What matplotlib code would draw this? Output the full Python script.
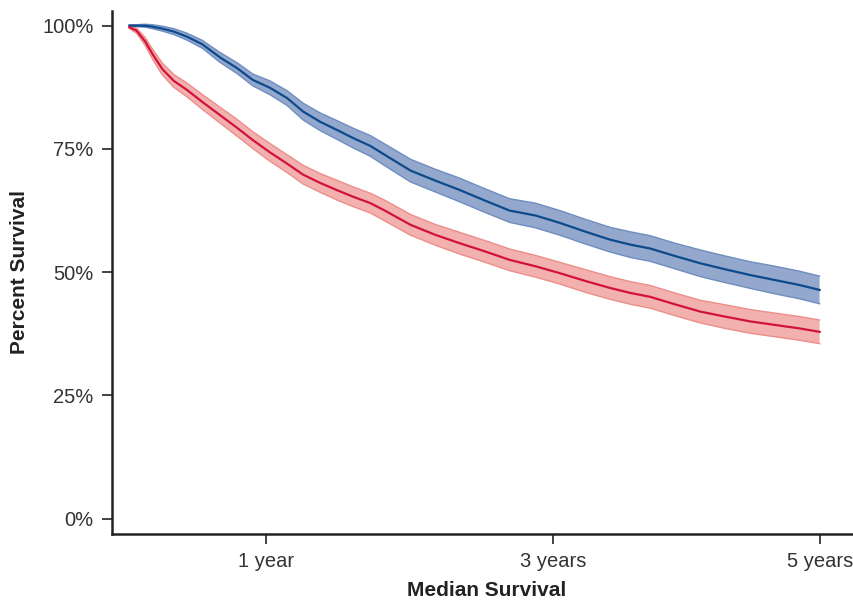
import matplotlib
matplotlib.use("Agg")
import matplotlib.pyplot as plt
import numpy as np

plt.rcParams['font.family'] = ['Liberation Sans', 'DejaVu Sans']

# time in years
time_years = [0.05, 0.10, 0.16, 0.21, 0.28, 0.36, 0.45, 0.56, 0.68, 0.80, 0.91,
              1.03, 1.15, 1.26, 1.38, 1.50, 1.61, 1.73, 1.83, 2.01, 2.18, 2.35,
              2.53, 2.70, 2.88, 3.05, 3.23, 3.40, 3.54, 3.68, 3.85, 4.03, 4.20,
              4.38, 4.55, 4.72, 4.86]

blue_surv = [100.0, 100.0, 100.0, 99.8, 99.4, 98.8, 97.8, 96.2, 93.6, 91.4, 89.0,
             87.4, 85.3, 82.6, 80.5, 78.8, 77.2, 75.6, 73.8, 70.6, 68.6, 66.7,
             64.5, 62.5, 61.5, 60.0, 58.2, 56.6, 55.6, 54.8, 53.3, 51.8, 50.6,
             49.4, 48.4, 47.4, 46.4]
blue_half = [0.2, 0.2, 0.3, 0.4, 0.5, 0.6, 0.7, 0.8, 1.0, 1.1, 1.2,
             1.4, 1.5, 1.7, 1.8, 1.9, 2.0, 2.1, 2.2, 2.3, 2.3, 2.4,
             2.4, 2.4, 2.5, 2.5, 2.5, 2.5, 2.6, 2.6, 2.6, 2.7, 2.7,
             2.7, 2.8, 2.8, 2.8]

red_surv = [99.7, 99.0, 96.8, 94.3, 91.2, 88.8, 87.0, 84.5, 81.9, 79.3, 76.8,
            74.3, 72.0, 69.8, 68.1, 66.6, 65.3, 64.0, 62.5, 59.6, 57.6, 55.9,
            54.2, 52.5, 51.2, 49.8, 48.2, 46.8, 45.8, 45.0, 43.5, 42.0, 41.0,
            40.0, 39.3, 38.6, 37.9]
red_half = [0.3, 0.5, 0.8, 1.0, 1.2, 1.3, 1.4, 1.5, 1.6, 1.7, 1.7,
            1.8, 1.8, 1.9, 1.9, 2.0, 2.0, 2.0, 2.1, 2.1, 2.1, 2.2,
            2.2, 2.2, 2.2, 2.2, 2.3, 2.3, 2.3, 2.3, 2.3, 2.3, 2.4,
            2.4, 2.4, 2.4, 2.4]

x_tick_pos = [1.0, 3.0, 4.863]
x_tick_labels = ["1 year", "3 years", "5 years"]
y_ticks = [0, 25, 50, 75, 100]
y_tick_labels = ["0%", "25%", "50%", "75%", "100%"]

fig = plt.figure(figsize=(8.54, 6.01), dpi=100)
ax = fig.add_axes([111.7 / 854, 67 / 601, 1 - 111.7 / 854, (534 - 10.7) / 601])

t = np.array(time_years)
series = [
    (blue_surv, blue_half, "#0b4a8c", "#93a8cc", "#6f8ec0"),
    (red_surv, red_half, "#d3123c", "#f2b1ae", "#ec8e8a"),
]
for surv, half, lc, fc, ec in series:
    s = np.array(surv)
    h = np.array(half)
    ax.fill_between(t, s - h, s + h, facecolor=fc, edgecolor="none", zorder=1)
    ax.plot(t, s + h, color=ec, lw=1.0, zorder=2)
    ax.plot(t, s - h, color=ec, lw=1.0, zorder=2)
    ax.plot(t, s, color=lc, lw=1.6, zorder=3)

ax.set_xlim((111.7 - 122.2) / 143.5, (854 - 122.2) / 143.5)
ax.set_ylim(-(534 - 518.7) / 4.93, 100 + (25.7 - 10.7) / 4.93)

ax.set_xticks(x_tick_pos)
ax.set_xticklabels(x_tick_labels)
ax.set_yticks(y_ticks)
ax.set_yticklabels(y_tick_labels)

for side in ["top", "right"]:
    ax.spines[side].set_visible(False)
for side in ["left", "bottom"]:
    ax.spines[side].set_linewidth(1.8)
    ax.spines[side].set_color("#222222")

ax.tick_params(axis="both", length=7, width=1.2, color="#222222",
               labelsize=14.5, labelcolor="#333333", pad=6)

fig.text(20 / 854, 1 - 272 / 601, "Percent Survival", rotation=90,
         fontsize=15, fontweight="bold", color="#222222",
         ha="center", va="center")
fig.text(487 / 854, 1 - 590 / 601, "Median Survival",
         fontsize=15, fontweight="bold", color="#222222",
         ha="center", va="center")

fig.savefig("out.png", dpi=100)
